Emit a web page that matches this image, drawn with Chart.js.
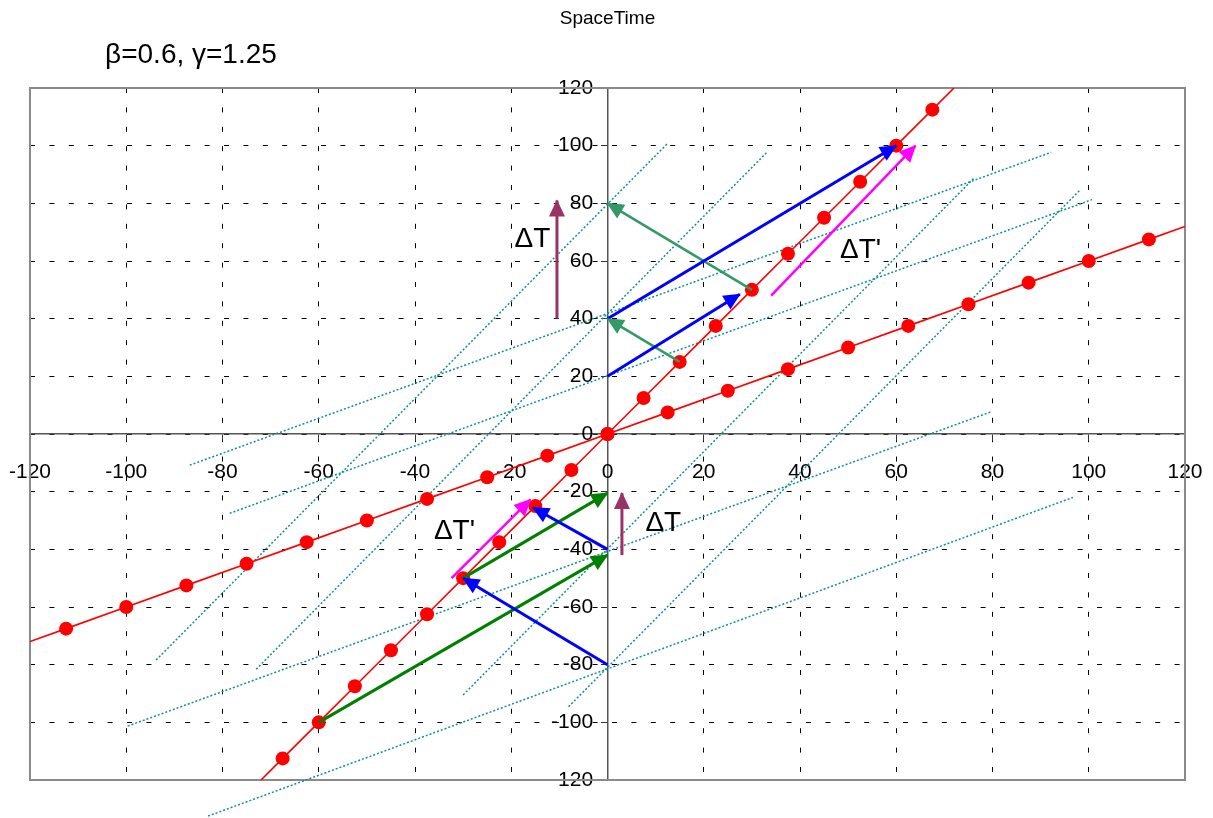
<!DOCTYPE html>
<html>
<head>
<meta charset="utf-8">
<title>SpaceTime</title>
<script src="https://cdn.jsdelivr.net/npm/chart.js@4.4.1/dist/chart.umd.min.js"></script>
<style>
  html, body { margin: 0; padding: 0; background: #fff; }
  #wrap { width: 1213px; height: 818px; position: relative; }
</style>
</head>
<body>
<div id="wrap"><canvas id="spaceTimeChart"></canvas></div>
<script>
// moving observer's world line (t' axis)
const movingAxisX = [-72, -67.5, -60, -52.5, -45, -37.5, -30, -22.5, -15, -7.5, 0, 7.5, 15, 22.5, 30, 37.5, 45, 52.5, 60, 67.5, 72];
const movingAxisT = [-120, -112.5, -100, -87.5, -75, -62.5, -50, -37.5, -25, -12.5, 0, 12.5, 25, 37.5, 50, 62.5, 75, 87.5, 100, 112.5, 120];
// line of simultaneity t' = 0 (x' axis)
const simAxisX = [-120, -112.5, -100, -87.5, -75, -62.5, -50, -37.5, -25, -12.5, 0, 12.5, 25, 37.5, 50, 62.5, 75, 87.5, 100, 112.5, 120];
const simAxisT = [-72, -67.5, -60, -52.5, -45, -37.5, -30, -22.5, -15, -7.5, 0, 7.5, 15, 22.5, 30, 37.5, 45, 52.5, 60, 67.5, 72];

// dotted primed grid lines: x' = -60, -30, 30, 60 and t' = 50, 25, -50, -100
const dottedFrom = [[-93.8, -78.4], [-73, -81.6], [-30, -90.5], [-8.1, -94.6], [-86.8, -10.8], [-78.5, -27.5], [-99.7, -101.3], [-83, -132.5]];
const dottedTo = [[12.5, 100.8], [33.3, 98], [76.2, 88.8], [98.3, 84.8], [92.2, 97.7], [100.7, 81.3], [79.7, 7.7], [96.7, -22]];

// arrows, start -> tip
const arrowFrom = [[0, 40], [0, 20], [30, 50], [15, 25], [-10.5, 40], [34, 48], [0, -80], [0, -40], [-30, -50], [-60, -100], [-32.4, -50], [3, -42]];
const arrowTo = [[60, 100], [27.5, 48.5], [0, 80], [0, 40], [-10.5, 81], [64, 100], [-30, -50], [-15.5, -25.5], [0, -20.5], [0, -42], [-16, -22.7], [3, -20.5]];
const arrowColors = ['#0000ff', '#0000ff', '#339966', '#339966', '#993366', '#ff00ff', '#0000ff', '#0000ff', '#008000', '#008000', '#ff00ff', '#993366'];

const axisTicks = [-120, -100, -80, -60, -40, -20, 0, 20, 40, 60, 80, 100, 120];

const noteText = ['\u0394T', '\u0394T\'', '\u0394T\'', '\u0394T'];
const notePos = [[-15.6, 67.4], [52.6, 63.7], [-31.8, -33.6], [11.6, -30.8]];
const paramText = '\u03b2=0.6, \u03b3=1.25';
const paramPos = [-104.4, 131.5];

const FONT = "'Liberation Sans', Arial, sans-serif";

function toPoints(xs, ys) {
    return xs.map((x, i) => ({ x: x, y: ys[i] }));
}

// 끝점에는 점을 찍지 않음
function dotRadius(ctx) {
    const n = ctx.dataset.data.length;
    return (ctx.dataIndex === 0 || ctx.dataIndex === n - 1) ? 0 : 7;
}

function fixedTicks(scale) {
    scale.ticks = axisTicks.map(v => ({ value: v }));
}

const datasets = [];

arrowFrom.forEach((p, i) => {
    const thin = arrowColors[i] === '#339966' || arrowColors[i] === '#ff00ff';
    datasets.push({
        data: [{ x: p[0], y: p[1] }, { x: arrowTo[i][0], y: arrowTo[i][1] }],
        showLine: true,
        arrow: true,
        borderColor: arrowColors[i],
        backgroundColor: arrowColors[i],
        borderWidth: thin ? 2.5 : 3,
        pointRadius: 0,
        clip: false
    });
});

datasets.push({
    data: toPoints(movingAxisX, movingAxisT),
    showLine: true,
    borderColor: '#ff0000',
    backgroundColor: '#ff0000',
    borderWidth: 1.6,
    pointRadius: dotRadius,
    pointBorderWidth: 0
});
datasets.push({
    data: toPoints(simAxisX, simAxisT),
    showLine: true,
    borderColor: '#ff0000',
    backgroundColor: '#ff0000',
    borderWidth: 1.6,
    pointRadius: dotRadius,
    pointBorderWidth: 0
});

dottedFrom.forEach((p, i) => {
    datasets.push({
        data: [{ x: p[0], y: p[1] }, { x: dottedTo[i][0], y: dottedTo[i][1] }],
        showLine: true,
        borderColor: '#119090',
        borderWidth: 1.5,
        borderDash: [2, 2],
        pointRadius: 0,
        clip: false
    });
});

// 화살촉 그리기
const arrowHeads = {
    id: 'arrowHeads',
    afterDatasetsDraw(chart) {
        const ctx = chart.ctx;
        chart.data.datasets.forEach((ds, i) => {
            if (!ds.arrow) return;
            const pts = chart.getDatasetMeta(i).data;
            const a = pts[0], b = pts[pts.length - 1];
            const ang = Math.atan2(b.y - a.y, b.x - a.x);
            ctx.save();
            ctx.fillStyle = ds.borderColor;
            ctx.translate(b.x, b.y);
            ctx.rotate(ang);
            ctx.beginPath();
            ctx.moveTo(1, 0);
            ctx.lineTo(-16, -8);
            ctx.lineTo(-16, 8);
            ctx.closePath();
            ctx.fill();
            ctx.restore();
        });
    }
};

// plot area frame
const plotFrame = {
    id: 'plotFrame',
    beforeDatasetsDraw(chart) {
        const { ctx, chartArea: a } = chart;
        ctx.save();
        ctx.strokeStyle = '#8a8a8a';
        ctx.lineWidth = 2;
        ctx.strokeRect(a.left, a.top, a.right - a.left, a.bottom - a.top);
        ctx.restore();
    }
};

// ΔT labels and parameter text
const notes = {
    id: 'notes',
    afterDraw(chart) {
        const { ctx, scales } = chart;
        ctx.save();
        ctx.fillStyle = '#000';
        ctx.textBaseline = 'middle';
        ctx.font = '28px ' + FONT;
        ctx.textAlign = 'center';
        noteText.forEach((t, i) => {
            ctx.fillText(t, scales.x.getPixelForValue(notePos[i][0]), scales.y.getPixelForValue(notePos[i][1]));
        });
        ctx.textAlign = 'left';
        ctx.fillText(paramText, scales.x.getPixelForValue(paramPos[0]), scales.y.getPixelForValue(paramPos[1]));
        ctx.restore();
    }
};

const labelFont = { family: FONT, size: 21 };

const ctx = document.getElementById('spaceTimeChart').getContext('2d');
window.spaceTimeChart = new Chart(ctx, {
    type: 'scatter',
    data: { datasets: datasets },
    options: {
        responsive: true,
        maintainAspectRatio: false,
        animation: false,
        layout: {
            padding: { left: 30, right: 28, top: 0, bottom: 38 }
        },
        plugins: {
            legend: { display: false },
            tooltip: { enabled: false },
            title: {
                display: true,
                text: 'SpaceTime',
                color: '#000',
                font: { family: FONT, size: 19, weight: 'normal' },
                padding: { top: 7, bottom: 58.2 }
            }
        },
        scales: {
            x: {
                type: 'linear',
                min: -120,
                max: 120,
                position: { y: 0 },
                afterBuildTicks: fixedTicks,
                grid: { color: '#000', lineWidth: 1, tickLength: 6, tickColor: '#333' },
                border: { display: true, color: '#555', width: 1.5, dash: [5, 14.4] },
                ticks: { display: false }
            },
            y: {
                type: 'linear',
                min: -120,
                max: 120,
                position: { x: 0 },
                afterBuildTicks: fixedTicks,
                grid: { color: '#000', lineWidth: 1, tickLength: 6, tickColor: '#333' },
                border: { display: true, color: '#555', width: 1.5, dash: [5, 14.4] },
                ticks: { display: false }
            },
            // 눈금 글자는 축에서 조금 떨어뜨려 표시
            xLabel: {
                type: 'linear',
                axis: 'x',
                min: -120,
                max: 120,
                position: { y: -9 },
                afterBuildTicks: fixedTicks,
                grid: { drawOnChartArea: false, drawTicks: false },
                border: { display: false },
                ticks: { autoSkip: false, maxRotation: 0, padding: 0, color: '#000', font: labelFont }
            },
            yLabel: {
                type: 'linear',
                axis: 'y',
                min: -120,
                max: 120,
                position: { x: -3 },
                afterBuildTicks: fixedTicks,
                grid: { drawOnChartArea: false, drawTicks: false },
                border: { display: false },
                ticks: { autoSkip: false, padding: 0, color: '#000', font: labelFont }
            }
        }
    },
    plugins: [arrowHeads, plotFrame, notes]
});
</script>
</body>
</html>
